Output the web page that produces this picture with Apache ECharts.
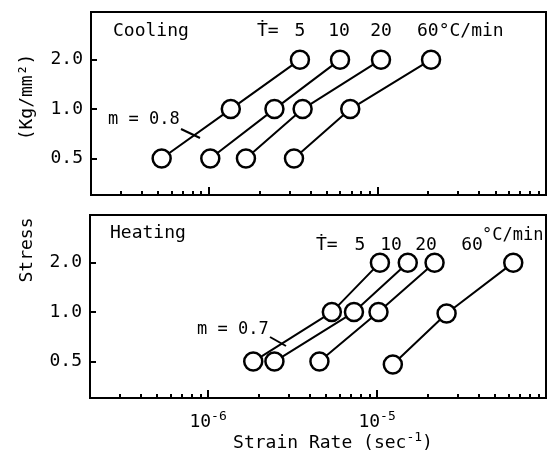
<!DOCTYPE html>
<html>
<head>
<meta charset="utf-8">
<style>
    html, body { margin: 0; padding: 0; background: #fff; }
    #chart { width: 554px; height: 459px; }
</style>
<script src="https://cdn.jsdelivr.net/npm/echarts@6/dist/echarts.min.js"></script>
</head>
<body>
<div id="chart"></div>
<script>
    // stress levels (kg/mm2) and strain rates (1/sec)
    var stressLevels = [0.5, 1.0, 2.0];
    var coolRate5 = [5.25e-7, 1.35e-6, 3.47e-6];
    var coolRate10 = [1.02e-6, 2.45e-6, 6.0e-6];
    var coolRate20 = [1.66e-6, 3.6e-6, 1.05e-5];
    var coolRate60 = [3.2e-6, 6.9e-6, 2.08e-5];
    var heatRate5 = [1.85e-6, 5.4e-6, 1.04e-5];
    var heatRate10 = [2.47e-6, 7.3e-6, 1.52e-5];
    var heatRate20 = [4.56e-6, 1.02e-5, 2.19e-5];
    var heatRate60 = [1.24e-5, 2.58e-5, 6.4e-5];
    var heatStress60 = [0.48, 0.98, 2.0];

    var majorTicks = [1e-6, 1e-5];
    var minorTicks = [3e-7, 4e-7, 5e-7, 6e-7, 7e-7, 8e-7, 9e-7,
        2e-6, 3e-6, 4e-6, 5e-6, 6e-6, 7e-6, 8e-6, 9e-6,
        2e-5, 3e-5, 4e-5, 5e-5, 6e-5, 7e-5, 8e-5, 9e-5];

    var FONT = 'DejaVu Sans Mono';

    function pts(xs, ys) {
        return xs.map(function (x, i) { return [x, ys[i]]; });
    }

    function xMajor(grid, showLabel) {
        return {
            type: 'log', logBase: 10, gridIndex: grid, min: 2e-7, max: 1e-4, position: 'bottom',
            axisLine: { show: false },
            axisTick: { inside: true, length: 8, customValues: majorTicks, lineStyle: { color: '#000', width: 2 } },
            axisLabel: {
                show: showLabel, customValues: majorTicks, margin: 12,
                formatter: function (v) { return '{b|10}{s|' + Math.round(Math.log10(v)) + '}'; },
                rich: {
                    b: { fontFamily: FONT, fontSize: 18, lineHeight: 24, color: '#000' },
                    s: { fontFamily: FONT, fontSize: 13, lineHeight: 14, verticalAlign: 'top', color: '#000' }
                }
            },
            splitLine: { show: false }
        };
    }
    function xMinor(grid) {
        return {
            type: 'log', logBase: 10, gridIndex: grid, min: 2e-7, max: 1e-4, position: 'bottom',
            axisLine: { show: false },
            axisTick: { inside: true, length: 4, customValues: minorTicks, lineStyle: { color: '#000', width: 2 } },
            axisLabel: { show: false },
            splitLine: { show: false }
        };
    }
    function yAxis(grid) {
        return {
            type: 'log', logBase: 2, gridIndex: grid, min: 0.3, max: 3.9,
            axisLine: { show: false },
            axisTick: { inside: true, length: 6, lineStyle: { color: '#000', width: 2 } },
            axisLabel: {
                showMinLabel: false, showMaxLabel: false, margin: 8,
                fontFamily: FONT, fontSize: 18, color: '#000',
                formatter: function (v) { return v.toFixed(1); }
            },
            splitLine: { show: false }
        };
    }
    function line(xi, yi, data) {
        return {
            type: 'line', xAxisIndex: xi, yAxisIndex: yi, data: data,
            symbol: 'circle', symbolSize: 18,
            itemStyle: { color: '#fff', borderColor: '#000', borderWidth: 2.5 },
            lineStyle: { color: '#000', width: 2 }
        };
    }
    function txt(x, y, s, opts) {
        var st = { text: s, fontFamily: FONT, fontSize: 18, fill: '#000', align: 'left', verticalAlign: 'middle' };
        for (var k in (opts || {})) st[k] = opts[k];
        return { type: 'text', x: x, y: y, style: st };
    }

    var chart = echarts.init(document.getElementById('chart'));
    chart.setOption({
        animation: false,
        backgroundColor: '#fff',
        grid: [
            { left: 91, top: 12, width: 455, height: 183, show: true, borderColor: '#000', borderWidth: 2, outerBoundsMode: 'none' },
            { left: 90, top: 215, width: 456, height: 183, show: true, borderColor: '#000', borderWidth: 2, outerBoundsMode: 'none' }
        ],
        xAxis: [xMajor(0, false), xMajor(1, true), xMinor(0), xMinor(1)],
        yAxis: [yAxis(0), yAxis(1)],
        series: [
            line(0, 0, pts(coolRate5, stressLevels)),
            line(0, 0, pts(coolRate10, stressLevels)),
            line(0, 0, pts(coolRate20, stressLevels)),
            line(0, 0, pts(coolRate60, stressLevels)),
            line(1, 1, pts(heatRate5, stressLevels)),
            line(1, 1, pts(heatRate10, stressLevels)),
            line(1, 1, pts(heatRate20, stressLevels)),
            line(1, 1, pts(heatRate60, heatStress60))
        ],
        graphic: [
            // axis titles
            { type: 'text', x: 27, y: 97, rotation: Math.PI / 2,
              style: { text: '(Kg/mm²)', fontFamily: FONT, fontSize: 18, fill: '#000', align: 'center', verticalAlign: 'middle' } },
            { type: 'text', x: 27, y: 250, rotation: Math.PI / 2,
              style: { text: 'Stress', fontFamily: FONT, fontSize: 18, fill: '#000', align: 'center', verticalAlign: 'middle' } },
            { type: 'text', x: 333, y: 443,
              style: { text: '{b|Strain Rate (sec}{s|-1}{b|)}', fontFamily: FONT, fontSize: 18, fill: '#000', align: 'center', verticalAlign: 'middle',
                       rich: { b: { fontFamily: FONT, fontSize: 18, lineHeight: 24 }, s: { fontFamily: FONT, fontSize: 13, lineHeight: 14, verticalAlign: 'top' } } } },
            // cooling panel notes
            txt(113, 31, 'Cooling'),
            txt(257, 31, 'Ṫ='),
            txt(300, 31, '5', { align: 'center' }),
            txt(339, 31, '10', { align: 'center' }),
            txt(381, 31, '20', { align: 'center' }),
            txt(417, 31, '60°C/min'),
            txt(108, 120, 'm = 0.8', { fontSize: 17 }),
            { type: 'line', shape: { x1: 181, y1: 129, x2: 200, y2: 138 }, style: { stroke: '#000', lineWidth: 2 } },
            // heating panel notes
            txt(110, 233, 'Heating'),
            txt(316, 245, 'Ṫ='),
            txt(360, 245, '5', { align: 'center' }),
            txt(391, 245, '10', { align: 'center' }),
            txt(426, 245, '20', { align: 'center' }),
            txt(472, 245, '60', { align: 'center' }),
            txt(482, 236, '°C/min', { fontSize: 17 }),
            txt(197, 330, 'm = 0.7', { fontSize: 17 }),
            { type: 'line', shape: { x1: 270, y1: 337, x2: 286, y2: 346 }, style: { stroke: '#000', lineWidth: 2 } }
        ]
    });
</script>
</body>
</html>
